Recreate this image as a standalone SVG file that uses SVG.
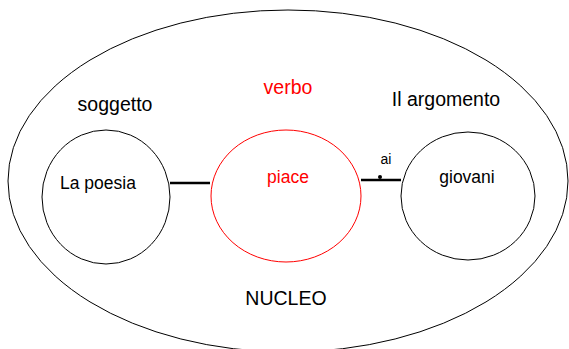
<svg xmlns="http://www.w3.org/2000/svg" width="569" height="349" viewBox="0 0 569 349">
<style>
.n{fill:none;stroke:#000;stroke-width:1}
.r{fill:none;stroke:#f00;stroke-width:1}
text{font-family:"Liberation Sans",Arial,sans-serif;text-anchor:middle}
.k{fill:#000}
.red{fill:#f00}
.c{stroke:#000;stroke-width:2.5}
</style>
<rect width="569" height="349" fill="#fff"/>
<g id="nucleo">
<ellipse class="n" cx="288" cy="181" rx="280" ry="171"/>
<text class="k" x="286" y="305" font-size="19.5">NUCLEO</text>
</g>
<g id="soggetto">
<ellipse class="n" cx="106" cy="197" rx="64" ry="67"/>
<text class="k" x="115" y="111" font-size="19.5">soggetto</text>
<text class="k" x="98" y="189" font-size="17.5">La poesia</text>
</g>
<g id="verbo">
<ellipse class="r" cx="286" cy="196" rx="75" ry="66"/>
<text class="red" x="288" y="94" font-size="19.5">verbo</text>
<text class="red" x="288" y="183" font-size="17.5">piace</text>
</g>
<g id="argomento">
<ellipse class="n" cx="468" cy="196" rx="67" ry="64"/>
<text class="k" x="446" y="106" font-size="19.5">Il argomento</text>
<text class="k" x="467" y="183" font-size="17.5">giovani</text>
</g>
<g id="connectors">
<line class="c" x1="170" y1="183" x2="210" y2="183"/>
<line class="c" x1="361" y1="180" x2="401" y2="180"/>
<circle cx="380" cy="177" r="2" fill="#000"/>
<text class="k" x="386" y="164" font-size="14">ai</text>
</g>
</svg>
